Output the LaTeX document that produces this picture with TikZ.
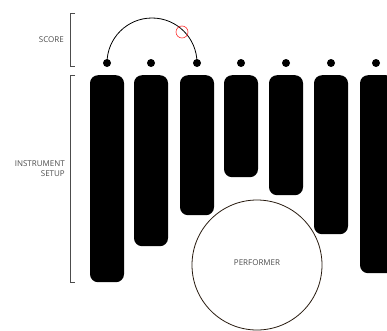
\documentclass[tikz,border=0pt]{standalone}
\usepackage{fontspec}
\setmainfont{Open Sans}
\begin{document}
\begin{tikzpicture}[x=1pt,y=1pt,
  bar/.style={fill=black,rounded corners=8pt,minimum width=34pt,anchor=north,inner sep=0pt},
  dot/.style={circle,fill=black,minimum size=8pt,inner sep=0pt},
  lbl/.style={text=black!70,font=\fontsize{8}{10}\selectfont,align=right,anchor=east,inner sep=0pt},
  brk/.style={draw=black!70,line width=0.6pt}]
\clip (0,0) rectangle (387,330);
\useasboundingbox (0,0) rectangle (387,330);
% bars
\node[bar,minimum height=207pt] (b1) at (107,255) {};
\node[bar,minimum height=171pt] (b2) at (151,255) {};
\node[bar,minimum height=140pt] (b3) at (197,255) {};
\node[bar,minimum height=102pt] (b4) at (241,255) {};
\node[bar,minimum height=120pt] (b5) at (286,255) {};
\node[bar,minimum height=159pt] (b6) at (331,255) {};
\node[bar,minimum height=198pt] (b7) at (377,255) {};
% dots
\foreach \i/\x in {1/107,2/151,3/197,4/241,5/286,6/331,7/376}
  \node[dot] (d\i) at (\x,267) {};
% arc between dots 1 and 3
\draw[line width=0.8pt] (d1.center) arc[start angle=180,end angle=0,radius=45pt];
\node[circle,draw=red!80,line width=0.6pt,minimum size=12pt,inner sep=0pt] (rc) at (182,298) {};
% brackets
\coordinate (s1) at (70,317);
\coordinate (s2) at (70,264);
\draw[brk] ([xshift=5pt]s1) -- (s1) -- (s2) -- ([xshift=5pt]s2);
\coordinate (i1) at (70,255);
\coordinate (i2) at (70,48);
\draw[brk] ([xshift=5pt]i1) -- (i1) -- (i2) -- ([xshift=5pt]i2);
\node[lbl] (score) at (64,290) {SCORE};
\node[lbl] (inst) at (65,161) {INSTRUMENT\\SETUP};
% performer
\node[circle,draw=black!80!brown,line width=0.8pt,minimum size=130pt,inner sep=0pt] (perf) at (257,65) {};
\node[text=black!70,font=\fontsize{8}{10}\selectfont] (ptxt) at (257,67) {PERFORMER};
\end{tikzpicture}
\end{document}
